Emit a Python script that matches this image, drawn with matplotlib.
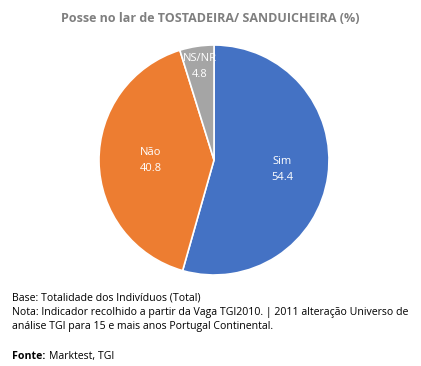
import matplotlib.pyplot as plt
import numpy as np

plt.rcParams['font.family'] = ['Open Sans', 'DejaVu Sans']

categories = ["Sim", "Não", "NS/NR"]
values = [54.4, 40.8, 4.8]
colors = ["#4472C4", "#ED7D31", "#A5A5A5"]
label_radius = [0.6, 0.55, 0.82]

fig = plt.figure(figsize=(4.21, 3.66), dpi=100)
fig.patch.set_facecolor("white")

# pie area: center (214,160) px, radius 115 px
ax = fig.add_axes([(214 - 117) / 421, 1 - (160 + 117) / 366, 234 / 421, 234 / 366])
wedges, _ = ax.pie(values, colors=colors, startangle=90, counterclock=False,
                   radius=115 / 117,
                   wedgeprops=dict(edgecolor="white", linewidth=1.2))
ax.set_xlim(-1, 1)
ax.set_ylim(-1, 1)
ax.set_aspect("equal")

for w, cat, v, r in zip(wedges, categories, values, label_radius):
    ang = np.deg2rad((w.theta1 + w.theta2) / 2)
    rr = r * w.r
    ax.text(rr * np.cos(ang), rr * np.sin(ang), f"{cat}\n{v:.1f}",
            ha="center", va="center", color="white", fontsize=8, linespacing=1.6)

fig.text(0.5, 1 - 19 / 366, "Posse no lar de TOSTADEIRA/ SANDUICHEIRA (%)",
         ha="center", va="center", color="#7F7F7F", fontsize=9, fontweight="bold")

foot = ["Base: Totalidade dos Indivíduos (Total)",
        "Nota: Indicador recolhido a partir da Vaga TGI2010. | 2011 alteração Universo de",
        "análise TGI para 15 e mais anos Portugal Continental."]
for i, line in enumerate(foot):
    fig.text(12 / 421, 1 - (301 + 14 * i) / 366, line, ha="left", va="baseline", fontsize=7.6)
fig.text(12 / 421, 1 - 359 / 366, "Fonte:", ha="left", va="baseline", fontsize=7.6, fontweight="bold")
fig.text(49 / 421, 1 - 359 / 366, "Marktest, TGI", ha="left", va="baseline", fontsize=7.6)

fig.savefig("out.png", dpi=100)
